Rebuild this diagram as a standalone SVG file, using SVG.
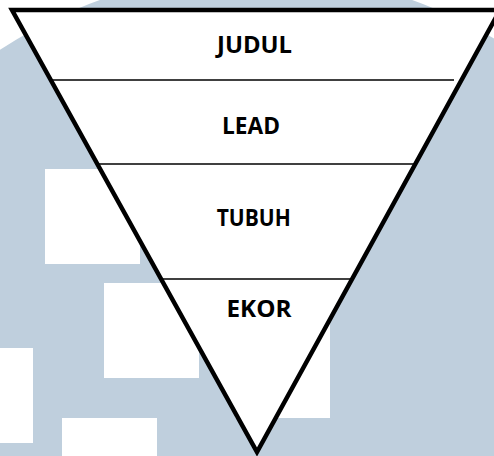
<svg xmlns="http://www.w3.org/2000/svg" width="494" height="456" viewBox="0 0 494 456">
<style>
.bg{fill:#BFCFDD}
.sq{fill:#FFFFFF}
.funnel{fill:#FFFFFF;stroke:#000000;stroke-width:4.5;stroke-linejoin:miter}
.div{stroke:#000000;stroke-width:1.6;fill:none}
.lbl{font-family:"Open Sans","Noto Sans","DejaVu Sans",sans-serif;font-weight:bold;font-size:23px;fill:#000000;text-anchor:middle}
</style>
<rect width="494" height="456" fill="#FFFFFF"/>
<g id="watermark">
<circle class="bg" cx="256" cy="438" r="465"/>
<rect class="sq" x="45" y="169" width="95" height="95"/>
<rect class="sq" x="104" y="283" width="95" height="95"/>
<rect class="sq" x="-62" y="348" width="95" height="95"/>
<rect class="sq" x="62" y="418" width="95" height="95"/>
<rect class="sq" x="235" y="323" width="95" height="95"/>
</g>
<g id="funnel">
<polygon class="funnel" points="12,10 500,10 257,452"/>
</g>
<g id="dividers">
<line class="div" x1="52" y1="80" x2="454" y2="80"/>
<line class="div" x1="99" y1="164" x2="415" y2="164"/>
<line class="div" x1="163" y1="279" x2="352" y2="279"/>
</g>
<g id="judul"><text class="lbl" x="254.5" y="52.5" textLength="75" lengthAdjust="spacingAndGlyphs">JUDUL</text></g>
<g id="lead"><text class="lbl" x="251" y="133.5" textLength="58" lengthAdjust="spacingAndGlyphs">LEAD</text></g>
<g id="tubuh"><text class="lbl" x="253.7" y="225.5" textLength="74" lengthAdjust="spacingAndGlyphs">TUBUH</text></g>
<g id="ekor"><text class="lbl" x="259" y="316.5" textLength="65" lengthAdjust="spacingAndGlyphs">EKOR</text></g>
</svg>
